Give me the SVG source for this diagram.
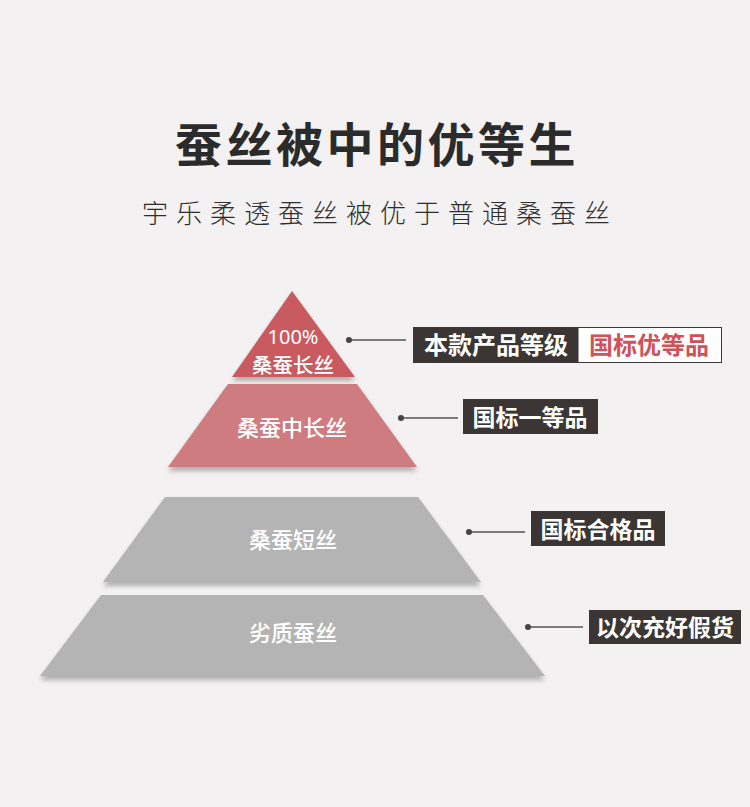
<svg xmlns="http://www.w3.org/2000/svg" width="750" height="807" viewBox="0 0 750 807">
<defs>
<filter id="sh" x="-10%" y="-10%" width="120%" height="130%">
<feGaussianBlur in="SourceAlpha" stdDeviation="2.5"/>
<feOffset dy="4" result="b"/>
<feComponentTransfer><feFuncA type="linear" slope="0.28"/></feComponentTransfer>
<feMerge><feMergeNode/><feMergeNode in="SourceGraphic"/></feMerge>
</filter>
</defs>
<style>
text{font-family:"Noto Sans CJK SC","Noto Sans",sans-serif;}
.tier{font-size:22px;font-weight:500;fill:#ffffff;text-anchor:middle;}
.lbl{font-size:23px;font-weight:700;fill:#ffffff;text-anchor:middle;}
.box{fill:#3b3634;}
.ln{stroke:#555;stroke-width:1.3;fill:none;}
.dot{fill:#444;}
</style>
<rect x="0" y="0" width="750" height="807" fill="#f3f1f1"/>
<g id="title">
<text x="377" y="162" font-size="47" font-weight="700" fill="#2b2b2b" text-anchor="middle" letter-spacing="3.5">蚕丝被中的优等生</text>
<text x="380" y="223" font-size="26" font-weight="300" fill="#2e2e2e" text-anchor="middle" letter-spacing="8">宇乐柔透蚕丝被优于普通桑蚕丝</text>
</g>
<g id="tier1">
<polygon points="292,291 355,377 232,377" fill="#c95a60" filter="url(#sh)"/>
<text class="tier" x="293" y="344" style="font-family:'Noto Sans',sans-serif;font-size:20px;font-weight:400">100%</text>
<text class="tier" x="293" y="373" style="font-size:20.5px">桑蚕长丝</text>
</g>
<g id="tier2">
<polygon points="228,384 357,384 417,467 168,467" fill="#cf7c81" filter="url(#sh)"/>
<text class="tier" x="292" y="436">桑蚕中长丝</text>
</g>
<g id="tier3">
<polygon points="165,497 418,497 481,582 103,582" fill="#b4b4b4" filter="url(#sh)"/>
<text class="tier" x="293" y="548">桑蚕短丝</text>
</g>
<g id="tier4">
<polygon points="101,595 483,595 545,676 40,676" fill="#b4b4b4" filter="url(#sh)"/>
<text class="tier" x="293" y="641">劣质蚕丝</text>
</g>
<g id="connectors">
<line class="ln" x1="349" y1="340" x2="406" y2="340"/>
<circle class="dot" cx="349" cy="340" r="3"/>
<line class="ln" x1="401" y1="418" x2="458" y2="418"/>
<circle class="dot" cx="401" cy="418" r="3"/>
<line class="ln" x1="469" y1="532" x2="525" y2="532"/>
<circle class="dot" cx="469" cy="532" r="3"/>
<line class="ln" x1="528" y1="627" x2="583" y2="627"/>
<circle class="dot" cx="528" cy="627" r="3"/>
</g>
<g id="label1">
<rect class="box" x="413" y="327" width="165" height="36"/>
<rect x="578" y="327.5" width="143.5" height="35" fill="#ffffff" stroke="#3b3634" stroke-width="1"/>
<text class="lbl" x="496" y="354" style="font-size:24px">本款产品等级</text>
<text class="lbl" x="649" y="354" style="font-size:24px;fill:#cf525a">国标优等品</text>
</g>
<g id="label2">
<rect class="box" x="463" y="399" width="135" height="35"/>
<text class="lbl" x="530" y="426">国标一等品</text>
</g>
<g id="label3">
<rect class="box" x="531" y="511" width="134" height="35"/>
<text class="lbl" x="598" y="538">国标合格品</text>
</g>
<g id="label4">
<rect class="box" x="589" y="610" width="152" height="34"/>
<text class="lbl" x="665" y="636">以次充好假货</text>
</g>
</svg>
